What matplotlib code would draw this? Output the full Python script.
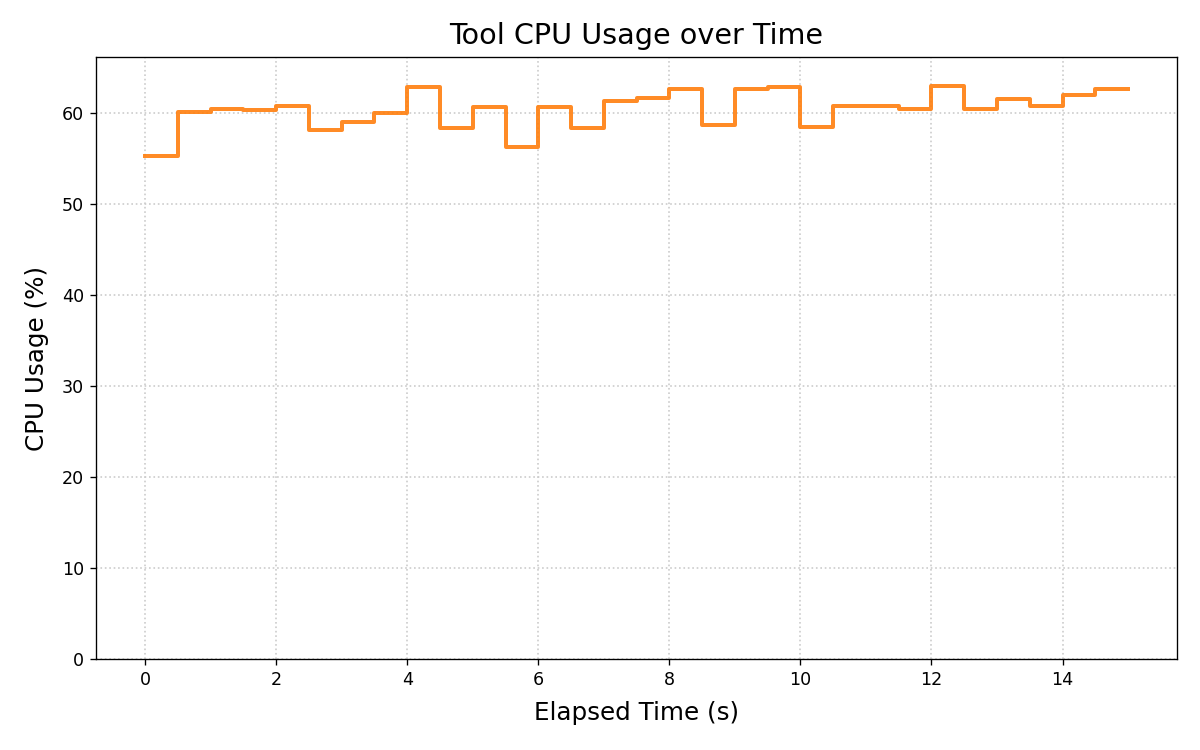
import matplotlib.pyplot as plt
import numpy as np

# Elapsed time samples (s) and CPU usage (%)
elapsed = np.arange(0, 15.5, 0.5)
cpu_usage = [
    55.3, 60.1, 60.4, 60.3, 60.8, 58.1, 59.0, 60.0, 62.9, 58.3,
    60.7, 56.3, 60.7, 58.4, 61.3, 61.6, 62.6, 58.7, 62.6, 62.9,
    58.5, 60.8, 60.8, 60.4, 63.0, 60.4, 61.5, 60.8, 62.0, 62.6,
    62.6,
]

fig, ax = plt.subplots(figsize=(10, 6.25), dpi=120)

ax.step(elapsed, cpu_usage, where="post", color="#ff7f0e", linewidth=2.4, alpha=0.9)

ax.set_ylim(0, max(cpu_usage) * 1.05)
ax.set_title("Tool CPU Usage over Time", fontsize=17.2, pad=8)
ax.set_xlabel("Elapsed Time (s)", fontsize=14.8, labelpad=7)
ax.set_ylabel("CPU Usage (%)", fontsize=14.8, labelpad=8)
ax.tick_params(labelsize=10.5)
ax.grid(True, linestyle=":", color="#cccccc", linewidth=1)

fig.subplots_adjust(left=0.08, right=0.981, top=0.924, bottom=0.121)
plt.savefig("out.png", dpi=120)
